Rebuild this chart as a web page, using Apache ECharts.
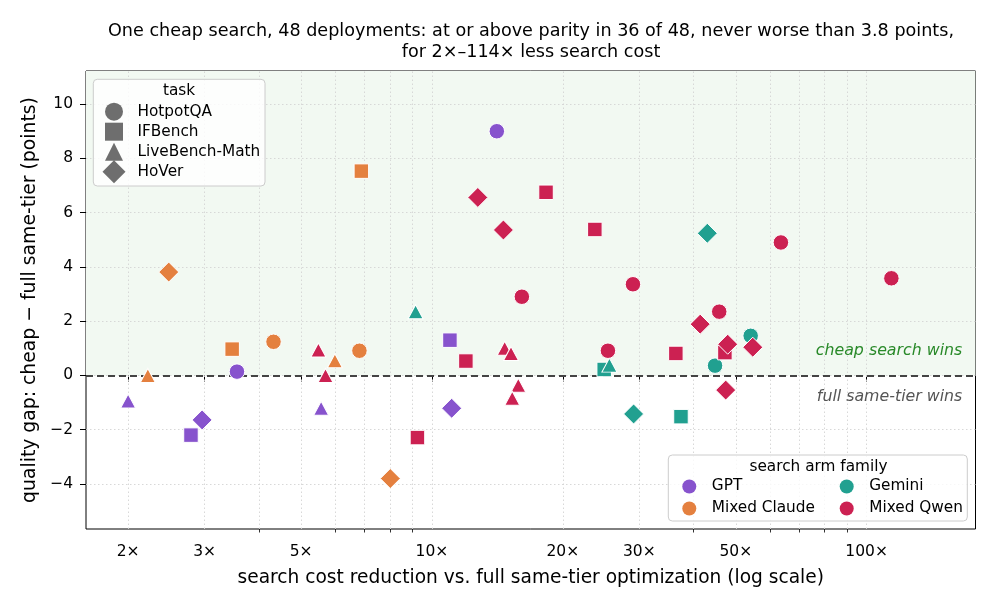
<!DOCTYPE html>
<html><head><meta charset="utf-8">
<script src="https://cdn.jsdelivr.net/npm/echarts@6/dist/echarts.min.js"></script>
<style>html,body{margin:0;padding:0;background:#fff}#c{width:996px;height:609px}</style>
</head><body><div id="c"></div><script>
const families = ['GPT', 'Mixed Claude', 'Gemini', 'Mixed Qwen'];
const familyColors = ['#8753cd', '#e4803f', '#21a090', '#cc2152'];
const tasks = ['HotpotQA', 'IFBench', 'LiveBench-Math', 'HoVer'];
const taskSymbols = ['circle', 'rect', 'triangle', 'diamond'];
const taskSizes = [15.5, 14.5, [15, 14], 20];

// one entry per deployment
const deployFamily = [
  'GPT','GPT','GPT','GPT','GPT','GPT','GPT','GPT',
  'Mixed Claude','Mixed Claude','Mixed Claude','Mixed Claude','Mixed Claude','Mixed Claude','Mixed Claude','Mixed Claude',
  'Gemini','Gemini','Gemini','Gemini','Gemini','Gemini','Gemini','Gemini',
  'Mixed Qwen','Mixed Qwen','Mixed Qwen','Mixed Qwen','Mixed Qwen','Mixed Qwen',
  'Mixed Qwen','Mixed Qwen','Mixed Qwen','Mixed Qwen','Mixed Qwen','Mixed Qwen',
  'Mixed Qwen','Mixed Qwen','Mixed Qwen','Mixed Qwen','Mixed Qwen','Mixed Qwen',
  'Mixed Qwen','Mixed Qwen','Mixed Qwen','Mixed Qwen','Mixed Qwen','Mixed Qwen'
];
const deployTask = [
  'HotpotQA','HotpotQA','IFBench','IFBench','LiveBench-Math','LiveBench-Math','HoVer','HoVer',
  'HotpotQA','HotpotQA','IFBench','IFBench','LiveBench-Math','LiveBench-Math','HoVer','HoVer',
  'HotpotQA','HotpotQA','IFBench','IFBench','LiveBench-Math','LiveBench-Math','HoVer','HoVer',
  'HotpotQA','HotpotQA','HotpotQA','HotpotQA','HotpotQA','HotpotQA',
  'IFBench','IFBench','IFBench','IFBench','IFBench','IFBench',
  'LiveBench-Math','LiveBench-Math','LiveBench-Math','LiveBench-Math','LiveBench-Math','LiveBench-Math',
  'HoVer','HoVer','HoVer','HoVer','HoVer','HoVer'
];
const costReduction = [
  14.1, 3.56, 11.0, 2.79, 2.0, 5.56, 2.96, 11.1,
  4.32, 6.81, 6.88, 3.47, 2.22, 5.98, 2.48, 8.02,
  54.1, 44.8, 24.9, 37.4, 9.17, 25.6, 43.0, 29.1,
  16.1, 29.0, 63.5, 114, 25.4, 45.8,
  18.3, 23.7, 11.97, 9.26, 36.4, 47.2,
  5.48, 5.69, 14.7, 15.2, 15.8, 15.3,
  12.75, 14.6, 41.4, 47.9, 54.7, 47.4
];
const qualityGap = [
  9.0, 0.14, 1.30, -2.20, -0.94, -1.21, -1.64, -1.21,
  1.24, 0.91, 7.53, 0.97, 0.0, 0.54, 3.81, -3.8,
  1.46, 0.36, 0.22, -1.52, 2.35, 0.38, 5.24, -1.42,
  2.90, 3.36, 4.90, 3.58, 0.91, 2.35,
  6.75, 5.38, 0.53, -2.29, 0.81, 0.84,
  0.94, 0.0, 1.0, 0.81, -0.36, -0.84,
  6.56, 5.36, 1.89, 1.15, 1.04, -0.54
];

const xTickLabels = [2, 3, 5, 10, 20, 30, 50, 100];
const xMinorTicks = [4, 6, 7, 8, 9, 40, 60, 70, 80, 90];
const yTicks = [-4, -2, 0, 2, 4, 6, 8, 10];
const xMin = 1.6, xMax = 178;
const yMin = -5.66, yMax = 11.22;

const FONT = 'DejaVu Sans';
const chart = echarts.init(document.getElementById('c'), null, {renderer: 'canvas'});

const familySeries = families.map((fam, fi) => ({
  name: fam,
  type: 'scatter',
  z: 5,
  symbol: 'circle',
  symbolSize: 13,
  itemStyle: {color: familyColors[fi], opacity: 1},
  emphasis: {disabled: true},
  data: costReduction.map((x, i) => ({i, x})).filter(d => deployFamily[d.i] === fam).map(d => {
    const ti = tasks.indexOf(deployTask[d.i]);
    return {value: [d.x, qualityGap[d.i]], symbol: taskSymbols[ti], symbolSize: taskSizes[ti],
            itemStyle: {borderColor: '#ffffff', borderWidth: 1}};
  })
}));

const taskSeries = tasks.map((t, ti) => ({
  name: t, type: 'scatter', symbol: taskSymbols[ti], symbolSize: 15,
  itemStyle: {color: '#4a4a4a'}, data: []
}));

const allGridX = xTickLabels.concat(xMinorTicks);
const gridLineStyle = {type: [1.5, 2.5], color: '#d4d4d4', width: 0.9};
const noBorder = {borderWidth: 0};
const legendText = {fontSize: 15.3, color: '#000', fontFamily: FONT};

const option = {
  animation: false,
  textStyle: {fontFamily: FONT},
  title: {
    text: 'One cheap search, 48 deployments: at or above parity in 36 of 48, never worse than 3.8 points,\nfor 2×–114× less search cost',
    left: 526, top: 16, textAlign: 'center',
    textStyle: {fontFamily: FONT, fontSize: 17.6, fontWeight: 'normal', color: '#000', lineHeight: 21}
  },
  grid: {left: 86, right: 20.5, top: 71, bottom: 80, show: true, borderColor: '#000', borderWidth: 1, backgroundColor: 'transparent'},
  xAxis: [{
    type: 'log', logBase: 10, min: xMin, max: xMax,
    axisLine: {show: false}, splitLine: {show: false},
    axisTick: {customValues: xTickLabels, length: 6, lineStyle: {color: '#000', width: 1}},
    axisLabel: {customValues: xTickLabels, formatter: v => Math.round(v) + '×', fontSize: 15.5, color: '#000', margin: 15, fontFamily: FONT},
    name: 'search cost reduction vs. full same-tier optimization (log scale)',
    nameLocation: 'middle', nameGap: 40,
    nameTextStyle: {fontSize: 18.6, color: '#000', fontFamily: FONT}
  }, {
    type: 'log', logBase: 10, min: xMin, max: xMax, position: 'bottom',
    axisLine: {show: false}, splitLine: {show: false}, axisLabel: {show: false},
    axisTick: {customValues: xMinorTicks, length: 3.5, lineStyle: {color: '#000', width: 0.8}}
  }],
  yAxis: {
    type: 'value', min: yMin, max: yMax,
    axisLine: {show: false}, splitLine: {show: false},
    axisTick: {customValues: yTicks, length: 6, lineStyle: {color: '#000', width: 1}},
    axisLabel: {customValues: yTicks, formatter: v => (v < 0 ? '\u2212' + Math.abs(v) : String(v)), fontSize: 15.5, color: '#000', margin: 13, fontFamily: FONT},
    name: 'quality gap: cheap \u2212 full same-tier (points)',
    nameLocation: 'middle', nameGap: 44, nameRotate: 90,
    nameTextStyle: {fontSize: 18.8, color: '#000', fontFamily: FONT}
  },
  legend: [{
    data: tasks.slice(0, 3), orient: 'vertical', left: 105, top: 102.7, itemWidth: 18, itemHeight: 18, itemGap: 2,
    padding: 0, selectedMode: false, itemStyle: noBorder, z: 20,
    textStyle: Object.assign({padding: [0, 0, 0, 9.5]}, legendText)
  }, {
    data: tasks.slice(3), orient: 'vertical', left: 102.5, top: 160.2, itemWidth: 23, itemHeight: 23, itemGap: 0,
    padding: 0, selectedMode: false, itemStyle: noBorder, z: 20,
    textStyle: Object.assign({padding: [0, 0, 0, 7]}, legendText)
  }, {
    data: ['GPT', 'Mixed Claude'], orient: 'vertical', left: 682.3, top: 479, itemWidth: 14, itemHeight: 14, itemGap: 7,
    padding: 0, selectedMode: false, icon: 'circle', itemStyle: noBorder, z: 20,
    textStyle: Object.assign({padding: [0, 0, 0, 10.5]}, legendText)
  }, {
    data: ['Gemini', 'Mixed Qwen'], orient: 'vertical', left: 839.7, top: 479, itemWidth: 14, itemHeight: 14, itemGap: 7,
    padding: 0, selectedMode: false, icon: 'circle', itemStyle: noBorder, z: 20,
    textStyle: Object.assign({padding: [0, 0, 0, 10.5]}, legendText)
  }],
  graphic: [
    {type: 'rect', z: 15, shape: {x: 93.3, y: 79.3, width: 171.7, height: 106.7, r: 4},
     style: {fill: 'rgba(255,255,255,0.82)', stroke: '#cccccc', lineWidth: 1}},
    {type: 'text', z: 16, style: {x: 179, y: 90.7, text: 'task', fill: '#000', font: '15.3px "DejaVu Sans"', textAlign: 'center', textVerticalAlign: 'middle'}},
    {type: 'rect', z: 15, shape: {x: 668.3, y: 455, width: 299, height: 66, r: 4},
     style: {fill: 'rgba(255,255,255,0.82)', stroke: '#cccccc', lineWidth: 1}},
    {type: 'text', z: 16, style: {x: 818.5, y: 466.7, text: 'search arm family', fill: '#000', font: '15.3px "DejaVu Sans"', textAlign: 'center', textVerticalAlign: 'middle'}},
    {type: 'text', z: 4, style: {x: 962.3, y: 351, text: 'cheap search wins', fill: '#2a8a2a', font: 'italic 15.8px "DejaVu Sans"', textAlign: 'right', textVerticalAlign: 'middle'}},
    {type: 'text', z: 4, style: {x: 962.3, y: 396.7, text: 'full same-tier wins', fill: '#555555', font: 'italic 15.8px "DejaVu Sans"', textAlign: 'right', textVerticalAlign: 'middle'}}
  ],
  series: [
    {
      type: 'scatter', name: '_bg', data: [], z: 0, silent: true,
      markArea: {z: 0, silent: true, itemStyle: {color: '#f2f9f2'}, label: {show: false},
        data: [[{xAxis: xMin, yAxis: 0}, {xAxis: xMax, yAxis: yMax}]]}
    },
    {
      type: 'scatter', name: '_grid', data: [], z: 1, silent: true,
      markLine: {z: 1, silent: true, symbol: ['none', 'none'], label: {show: false}, lineStyle: gridLineStyle,
        emphasis: {disabled: true},
        data: allGridX.map(v => ({xAxis: v})).concat(yTicks.map(v => ({yAxis: v})))}
    },
    {
      type: 'scatter', name: '_zero', data: [], z: 2, silent: true,
      markLine: {z: 2, silent: true, symbol: ['none', 'none'], label: {show: false},
        lineStyle: {type: [7, 4], color: '#444444', width: 1.8}, emphasis: {disabled: true},
        data: [{yAxis: 0}]}
    }
  ].concat(familySeries, taskSeries)
};
chart.setOption(option);
</script></body></html>
